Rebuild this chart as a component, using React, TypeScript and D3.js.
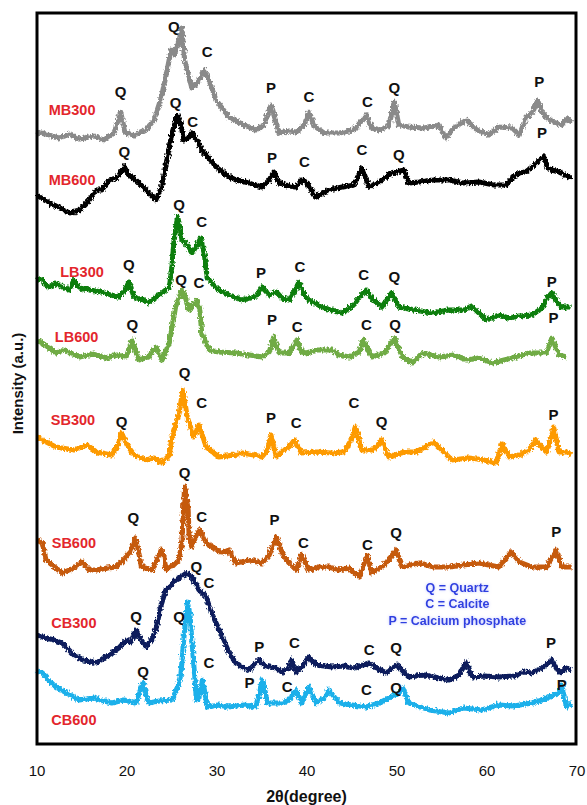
import React from 'react';
import * as d3 from 'd3';

type Pt = [number, number];
type Tag = [number, number, string];

// 2θ (degree), intensity (a.u., stacked)
const mb300: Pt[] = [
  [10.0, 612], [11.3, 609], [12.4, 606], [13.6, 610], [14.7, 605], [16.3, 608], [17.4, 604], [18.6, 612],
  [19.3, 632], [19.8, 611], [20.8, 609], [22.1, 614], [23.0, 624], [23.9, 649], [24.9, 694], [25.3, 689],
  [25.8, 704], [26.1, 716], [26.4, 684], [27.2, 656], [28.0, 664], [28.6, 674], [29.1, 664], [29.9, 644],
  [31.3, 627], [33.0, 619], [34.3, 614], [35.2, 619], [36.0, 639], [36.9, 611], [38.0, 613], [38.8, 612],
  [39.7, 619], [40.2, 632], [40.8, 618], [41.9, 611], [43.6, 611], [45.2, 614], [46.6, 629], [47.2, 616],
  [48.0, 614], [49.1, 618], [49.7, 642], [50.2, 619], [51.3, 617], [53.0, 616], [54.7, 619], [55.4, 606],
  [56.3, 616], [57.7, 624], [58.9, 614], [60.2, 609], [61.3, 617], [62.8, 616], [63.6, 609], [64.3, 626],
  [65.1, 632], [65.6, 644], [66.1, 632], [66.7, 626], [67.4, 622], [68.3, 619], [68.9, 626], [69.4, 621],
];
const mb600: Pt[] = [
  [10.0, 549], [10.8, 544], [11.9, 539], [13.6, 531], [14.7, 534], [15.8, 544], [16.6, 554], [17.2, 554],
  [18.0, 564], [18.9, 566], [19.7, 577], [20.2, 569], [21.0, 564], [21.9, 556], [22.4, 551], [23.2, 544],
  [23.8, 556], [24.3, 577], [25.0, 611], [25.6, 629], [26.0, 619], [26.3, 604], [26.8, 606], [27.2, 611],
  [27.8, 604], [28.3, 594], [29.1, 586], [29.9, 577], [31.0, 569], [32.1, 564], [33.6, 561], [35.0, 557],
  [35.8, 564], [36.3, 572], [36.9, 561], [38.0, 558], [38.8, 557], [39.4, 564], [39.9, 562], [41.0, 547],
  [42.4, 554], [43.9, 557], [45.2, 559], [46.1, 576], [46.9, 557], [48.0, 562], [49.4, 571], [50.8, 574],
  [51.3, 561], [52.4, 562], [54.1, 564], [55.8, 564], [57.4, 561], [59.1, 562], [60.8, 559], [62.1, 559],
  [62.8, 566], [63.6, 571], [64.3, 572], [65.0, 577], [65.8, 584], [66.3, 587], [66.8, 576], [67.2, 574],
  [68.0, 572], [69.1, 567], [69.4, 568],
];
const lb300: Pt[] = [
  [10.0, 466], [10.6, 464], [11.3, 456], [12.1, 461], [12.8, 457], [13.6, 454], [14.1, 464], [14.7, 456],
  [15.8, 454], [17.2, 452], [18.2, 449], [19.1, 447], [19.8, 454], [20.2, 462], [20.7, 449], [21.0, 446],
  [21.9, 444], [22.4, 441], [23.2, 447], [23.9, 451], [24.7, 457], [25.0, 479], [25.2, 501], [25.6, 527],
  [25.9, 516], [26.1, 504], [26.7, 499], [27.2, 491], [27.8, 499], [28.2, 506], [28.6, 489], [28.9, 467],
  [29.6, 459], [30.2, 454], [31.3, 449], [32.8, 444], [33.6, 446], [34.3, 447], [35.0, 457], [35.8, 449],
  [36.6, 452], [37.2, 446], [38.0, 444], [38.7, 454], [39.1, 462], [39.7, 449], [40.2, 444], [41.9, 436],
  [43.9, 431], [45.2, 439], [46.0, 449], [46.6, 454], [47.4, 444], [48.3, 437], [49.4, 451], [50.2, 437],
  [51.9, 434], [53.9, 431], [55.8, 434], [57.4, 434], [58.3, 438], [59.1, 431], [59.9, 424], [61.3, 429],
  [62.4, 426], [63.6, 428], [65.0, 429], [66.1, 436], [66.7, 446], [67.2, 451], [67.8, 442], [68.3, 437],
  [69.3, 437],
];
const lb600: Pt[] = [
  [10.0, 404], [10.6, 401], [12.1, 391], [13.0, 394], [14.7, 387], [16.3, 390], [17.7, 386], [18.9, 389],
  [19.9, 387], [20.6, 404], [21.0, 392], [21.3, 384], [22.4, 387], [23.2, 397], [23.9, 384], [24.7, 401],
  [25.4, 437], [26.1, 454], [26.4, 449], [26.9, 434], [27.3, 439], [27.8, 444], [28.1, 434], [28.3, 411],
  [29.1, 394], [30.2, 392], [32.1, 391], [33.6, 389], [35.0, 387], [35.8, 392], [36.3, 407], [36.9, 391],
  [38.0, 391], [38.9, 404], [39.4, 392], [39.9, 391], [41.1, 394], [42.8, 394], [43.6, 389], [44.7, 387],
  [45.8, 392], [46.3, 404], [47.2, 387], [48.6, 391], [49.7, 406], [50.6, 387], [51.7, 381], [52.8, 391],
  [54.7, 387], [56.3, 389], [57.7, 384], [59.1, 386], [60.6, 381], [61.9, 384], [63.2, 387], [64.7, 391],
  [66.6, 391], [67.2, 406], [68.0, 389], [68.8, 387],
];
const sb300: Pt[] = [
  [10.0, 307], [10.6, 304], [12.1, 297], [14.1, 294], [15.6, 299], [16.6, 292], [18.3, 289], [18.9, 297],
  [19.4, 311], [20.0, 299], [20.8, 289], [22.1, 284], [23.0, 286], [23.9, 281], [24.7, 289], [25.0, 307],
  [25.8, 331], [26.2, 354], [26.7, 327], [27.1, 316], [27.4, 307], [28.0, 319], [28.8, 297], [30.2, 287],
  [31.9, 289], [32.8, 291], [34.1, 289], [35.0, 287], [35.6, 294], [36.0, 309], [36.6, 287], [37.4, 294],
  [38.0, 297], [38.6, 304], [39.4, 291], [41.0, 292], [42.8, 291], [44.1, 292], [44.9, 304], [45.4, 317],
  [46.1, 294], [47.4, 294], [48.3, 304], [49.1, 287], [50.8, 292], [52.1, 292], [54.1, 302], [55.2, 292],
  [56.1, 284], [58.0, 286], [59.7, 284], [61.0, 281], [61.7, 301], [62.4, 287], [63.6, 289], [64.7, 294],
  [65.4, 304], [66.6, 292], [67.1, 304], [67.4, 317], [68.0, 292], [68.9, 292], [69.4, 289],
];
const sb600: Pt[] = [
  [10.0, 204], [10.6, 201], [11.0, 184], [12.8, 171], [14.1, 176], [15.0, 182], [15.8, 174], [16.6, 174],
  [17.8, 176], [18.8, 177], [19.9, 187], [20.4, 192], [20.9, 206], [21.3, 192], [21.6, 177], [22.8, 174],
  [23.3, 184], [23.8, 194], [24.1, 189], [24.3, 174], [25.2, 179], [25.8, 184], [26.1, 204], [26.4, 257],
  [26.8, 234], [26.9, 207], [27.2, 197], [27.7, 209], [28.1, 214], [28.8, 201], [29.7, 196], [30.6, 191],
  [31.3, 194], [32.1, 181], [33.6, 184], [35.0, 181], [35.8, 189], [36.6, 207], [36.9, 199], [37.2, 191],
  [38.0, 181], [38.8, 174], [39.4, 189], [40.2, 174], [41.3, 177], [42.4, 177], [43.6, 174], [44.7, 176],
  [45.8, 167], [46.7, 189], [47.2, 171], [48.6, 179], [49.9, 194], [50.6, 177], [52.4, 181], [54.1, 177],
  [55.8, 177], [57.4, 179], [59.1, 181], [61.3, 177], [62.7, 192], [63.6, 182], [65.0, 177], [66.6, 177],
  [67.7, 194], [68.3, 177], [69.4, 177],
];
const cb300: Pt[] = [
  [10.0, 109], [10.6, 107], [11.9, 104], [12.8, 101], [14.1, 89], [15.2, 84], [16.6, 81], [17.4, 86],
  [18.3, 91], [19.1, 96], [19.9, 104], [20.4, 102], [21.0, 114], [21.6, 104], [22.1, 97], [22.7, 104],
  [23.2, 114], [23.8, 139], [24.3, 154], [24.9, 159], [25.4, 164], [26.0, 167], [26.6, 171], [27.0, 169],
  [27.4, 164], [28.0, 154], [28.8, 147], [29.4, 131], [30.0, 119], [30.6, 107], [31.3, 92], [32.1, 81],
  [33.0, 76], [33.6, 74], [34.1, 79], [34.7, 84], [35.2, 79], [35.8, 77], [36.6, 76], [37.2, 72],
  [38.0, 76], [38.3, 84], [38.8, 72], [39.4, 76], [40.2, 87], [41.0, 79], [41.9, 78], [42.8, 77],
  [44.1, 78], [45.2, 76], [46.9, 81], [47.8, 76], [48.8, 71], [50.0, 79], [51.3, 67], [53.0, 69],
  [54.7, 66], [55.8, 64], [56.9, 69], [57.7, 82], [58.3, 67], [59.7, 68], [61.3, 67], [63.0, 68],
  [64.1, 72], [65.0, 71], [66.1, 76], [67.2, 84], [68.0, 71], [68.8, 76], [69.4, 74],
];
const cb600: Pt[] = [
  [10.0, 74], [10.6, 71], [11.3, 64], [12.1, 57], [13.3, 51], [14.7, 44], [16.3, 46], [18.3, 41],
  [19.7, 44], [21.0, 41], [21.4, 52], [21.8, 62], [22.1, 49], [22.4, 41], [23.6, 43], [25.0, 44],
  [25.7, 59], [26.0, 71], [26.3, 104], [26.7, 142], [27.0, 129], [27.2, 104], [27.6, 59], [27.7, 44],
  [28.0, 47], [28.4, 64], [28.7, 49], [28.9, 37], [30.2, 39], [31.3, 37], [33.0, 39], [34.3, 37],
  [34.7, 49], [35.0, 64], [35.3, 54], [35.6, 41], [37.2, 41], [38.0, 44], [38.8, 54], [39.4, 41],
  [40.2, 57], [41.0, 41], [41.9, 46], [42.4, 54], [43.6, 41], [45.0, 39], [46.6, 37], [48.0, 41],
  [49.3, 47], [50.2, 51], [50.7, 56], [51.3, 41], [53.6, 34], [55.8, 31], [57.4, 36], [59.4, 34],
  [61.3, 39], [63.0, 38], [65.0, 41], [66.7, 46], [68.0, 51], [68.3, 59], [68.8, 37], [69.4, 41],
];

// phase markers: 2θ, intensity, letter
const mb300Tags: Tag[] = [[19.3, 652, 'Q'], [25.2, 717, 'Q'], [28.9, 692, 'C'], [36.0, 656, 'P'], [40.2, 647, 'C'], [46.7, 642, 'C'], [49.7, 656, 'Q'], [65.8, 662, 'P']];
const mb600Tags: Tag[] = [[19.7, 592, 'Q'], [25.4, 641, 'Q'], [27.3, 622, 'C'], [36.1, 586, 'P'], [39.7, 582, 'C'], [46.1, 594, 'C'], [50.2, 589, 'Q'], [66.1, 611, 'P']];
const lb300Tags: Tag[] = [[20.2, 479, 'Q'], [25.8, 539, 'Q'], [28.3, 522, 'C'], [34.9, 471, 'P'], [39.2, 477, 'C'], [46.3, 469, 'C'], [49.7, 467, 'Q'], [67.2, 462, 'P']];
const lb600Tags: Tag[] = [[20.6, 419, 'Q'], [26.0, 464, 'Q'], [28.0, 461, 'C'], [36.1, 424, 'P'], [38.9, 417, 'C'], [46.6, 419, 'C'], [49.8, 419, 'Q'], [67.4, 426, 'P']];
const sb300Tags: Tag[] = [[19.4, 322, 'Q'], [26.4, 371, 'Q'], [28.3, 341, 'C'], [36.0, 326, 'P'], [38.8, 321, 'C'], [45.2, 341, 'C'], [48.3, 322, 'Q'], [67.4, 329, 'P']];
const sb600Tags: Tag[] = [[20.7, 226, 'Q'], [26.4, 271, 'Q'], [28.3, 227, 'C'], [36.4, 224, 'P'], [39.6, 201, 'C'], [46.7, 199, 'C'], [49.9, 211, 'Q'], [67.7, 212, 'P']];
const cb300Tags: Tag[] = [[21.0, 127, 'Q'], [27.7, 177, 'Q'], [29.1, 161, 'C'], [34.7, 97, 'P'], [38.6, 101, 'C'], [46.9, 94, 'C'], [49.9, 96, 'Q'], [67.1, 101, 'P']];
const cb600Tags: Tag[] = [[21.8, 72, 'Q'], [25.8, 127, 'Q'], [29.1, 81, 'C'], [33.6, 61, 'P'], [37.8, 57, 'C'], [46.6, 54, 'C'], [49.9, 56, 'Q'], [68.3, 59, 'P']];

const sampleNames = ['MB300', 'MB600', 'LB300', 'LB600', 'SB300', 'SB600', 'CB300', 'CB600'];
const sampleColors = ['#8a8a8a', '#000000', '#0b7e0b', '#6fab45', '#fd9a06', '#c55a11', '#0b1f5c', '#1cb0ea'];
const sampleData = [mb300, mb600, lb300, lb600, sb300, sb600, cb300, cb600];
const sampleTags = [mb300Tags, mb600Tags, lb300Tags, lb600Tags, sb300Tags, sb600Tags, cb300Tags, cb600Tags];
// where each sample name sits (2θ, intensity)
const nameSpots: Pt[] = [[13.9, 634], [13.9, 564], [15.0, 472], [14.4, 407], [14.0, 324], [14.1, 201], [14.1, 121], [14.1, 24]];

const legendLines = ['Q = Quartz', 'C = Calcite', 'P = Calcium phosphate'];
const xTicks = [10, 20, 30, 40, 50, 60, 70];

const W = 587;
const H = 805;
const frame = { left: 37, right: 576, top: 13, bottom: 744 };

export default function App() {
  const x = d3.scaleLinear().domain([10, 70]).range([37, 577]);
  const y = d3.scaleLinear().domain([0, 731]).range([frame.bottom, frame.top]);
  const line = d3.line<Pt>().x((d) => x(d[0])).y((d) => y(d[1]));
  const font = '"Liberation Sans", Arial, sans-serif';

  return (
    <svg width={W} height={H} style={{ position: 'absolute', left: 0, top: 0, background: '#fff' }} fontFamily={font}>
      <defs>
        {/* rough, grainy look of the scanned traces */}
        <filter id="grain" x="-2%" y="-10%" width="104%" height="120%">
          <feTurbulence type="fractalNoise" baseFrequency="0.55 0.35" numOctaves={2} seed={3} result="n" />
          <feDisplacementMap in="SourceGraphic" in2="n" scale={5} xChannelSelector="R" yChannelSelector="G" />
        </filter>
        <filter id="glow" x="-20%" y="-40%" width="140%" height="180%">
          <feGaussianBlur in="SourceAlpha" stdDeviation="1.5" result="b" />
          <feFlood floodColor="#9aa3ff" floodOpacity="0.6" />
          <feComposite in2="b" operator="in" result="g" />
          <feMerge>
            <feMergeNode in="g" />
            <feMergeNode in="SourceGraphic" />
          </feMerge>
        </filter>
      </defs>

      <g filter="url(#grain)">
        {sampleData.map((d, i) => (
          <path key={sampleNames[i]} d={line(d) || ''} fill="none" stroke={sampleColors[i]} strokeWidth={5} strokeLinejoin="round" />
        ))}
      </g>

      {sampleTags.map((tags, i) =>
        tags.map((t, j) => (
          <text key={`${i}-${j}`} x={x(t[0])} y={y(t[1])} dy="0.36em" textAnchor="middle" fontSize={15} fontWeight="bold" fill="#111">
            {t[2]}
          </text>
        ))
      )}

      {sampleNames.map((n, i) => (
        <text key={n} x={x(nameSpots[i][0])} y={y(nameSpots[i][1])} dy="0.36em" textAnchor="middle" fontSize={14.5} fontWeight="bold" fill="#e3262c">
          {n}
        </text>
      ))}

      <g filter="url(#glow)">
        {legendLines.map((l, i) => (
          <text key={l} x={x(56.7)} y={y(157 - i * 16.5)} dy="0.36em" textAnchor="middle" fontSize={12.5} fontWeight="bold" fill="#2f3fe0">
            {l}
          </text>
        ))}
      </g>

      <rect x={frame.left} y={frame.top} width={frame.right - frame.left} height={frame.bottom - frame.top} fill="none" stroke="#000" strokeWidth={3} />

      {xTicks.map((t) => (
        <text key={t} x={x(t)} y={776} textAnchor="middle" fontSize={15} fill="#111">
          {t}
        </text>
      ))}
      <text x={(frame.left + frame.right) / 2} y={802} textAnchor="middle" fontSize={16} fontWeight="bold" fill="#111">
        2θ(degree)
      </text>
      <text transform={`translate(23, ${(frame.top + frame.bottom) / 2 + 5}) rotate(-90)`} textAnchor="middle" fontSize={15} fontWeight="bold" fill="#111">
        Intensity (a.u.)
      </text>
    </svg>
  );
}
